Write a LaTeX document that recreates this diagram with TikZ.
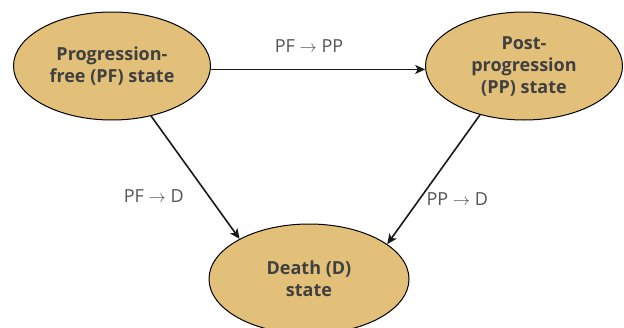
\documentclass[tikz,border=0pt]{standalone}
\usepackage{fontspec}
\setmainfont{Open Sans}
\usepackage{xcolor}
\usetikzlibrary{shapes,positioning,arrows.meta}
\definecolor{statefill}{HTML}{E2C07A}
\definecolor{statetext}{HTML}{404040}
\definecolor{labeltext}{HTML}{555555}

\begin{document}
\begin{tikzpicture}[->,>={Stealth[length=10pt,width=9pt,inset=2.5pt]},x=1pt,y=-1pt,line width=1.6pt,draw=black!90,inner sep=2pt]
                \useasboundingbox (0,0) rectangle (624,327);
                \tikzstyle{state}=[ellipse,draw=black,fill=statefill,line width=1pt,minimum width=197pt,minimum height=108pt,align=center,text=statetext,font=\bfseries\fontsize{18}{22}\selectfont]
                \node[state] (pf) at (112,66) {Progression-\\free (PF) state};
                \node[state] (pp) at (524,66) {Post-\\progression\\(PP) state};
                \node[state,minimum width=200pt,minimum height=110pt] (d) at (309,279) {Death (D)\\state};
                \tikzstyle{every node}=[font=\fontsize{18}{20}\selectfont,text=labeltext]         % transition labels
                \path
                    (pf.-2) edge node[above=14pt,xshift=-9pt] {PF $\rightarrow$ PP} (pp.182)
                    (pf.-52) edge node[pos=0.65,left=22pt] {PF $\rightarrow$ D} (d.150)
                    (pp.-132) edge node[pos=0.65,right=4pt] {PP $\rightarrow$ D} (d.24);
            \end{tikzpicture}
\end{document}
